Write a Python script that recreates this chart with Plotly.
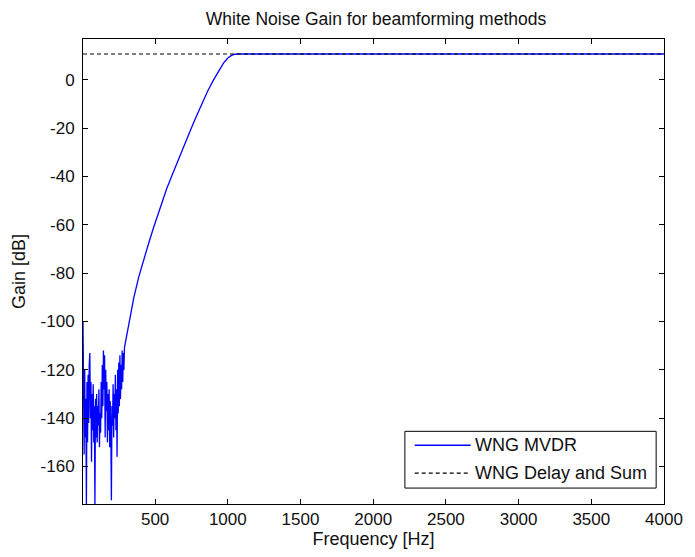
import plotly.graph_objects as go

# Low-frequency (noisy) MVDR bins, Hz and dB
noise_freq = [3.9, 7.8, 11.7, 15.6, 19.5, 23.4, 27.3, 31.3, 35.2, 39.1, 43.0, 46.9,
              50.8, 54.7, 58.6, 62.5, 66.4, 70.3, 74.2, 78.1, 82.0, 85.9, 89.8, 93.8,
              97.7, 101.6, 105.5, 109.4, 113.3, 117.2, 121.1, 125.0, 128.9, 132.8,
              136.7, 140.6, 144.5, 148.4, 152.3, 156.3, 160.2, 164.1, 168.0, 171.9,
              175.8, 179.7, 183.6, 187.5, 191.4, 195.3, 199.2, 203.1, 207.0, 210.9,
              214.8, 218.8, 222.7, 226.6, 230.5, 234.4, 238.3, 242.2, 246.1, 250.0,
              253.9, 257.8, 261.7, 265.6, 269.5, 273.4, 277.3, 281.3, 285.2]
noise_gain = [-100, -128, -155, -120, -148, -132, -176, -125, -150, -122, -142, -118,
              -113, -140, -125, -158, -130, -145, -126, -150, -135, -176, -132, -148,
              -130, -150, -135, -143, -128, -152, -138, -146, -125, -140,
              -118, -135, -112, -128, -114, -148, -120, -137, -125, -150,
              -130, -145, -128, -152, -133, -146, -174, -135, -143, -126,
              -148, -130, -140, -122, -145, -128, -156, -120, -138, -117,
              -135, -114, -132, -118, -128, -112, -125, -113, -120]

# Smooth part of MVDR WNG curve
curve_freq = [289, 320, 353, 387, 421, 455, 490, 520, 545, 580, 620, 660, 700, 740,
              780, 820, 860, 900, 940, 970, 1000, 1025, 1050, 1070,
              1500, 2000, 2500, 3000, 3500, 4000]
curve_gain = [-110.8, -100.1, -90.2, -81.6, -74.4, -67.7, -61.0, -55.4, -50.7, -45.0,
              -39.0, -32.9, -27.0, -21.3, -15.6, -10.0, -4.8, -0.2, 3.9, 6.9, 9.0,
              10.1, 10.6, 10.7, 10.7, 10.7, 10.7, 10.7, 10.7, 10.7]

ds_freq = [3.9, 4000]
ds_gain = [10.7, 10.7]

series_names = ["WNG MVDR", "WNG Delay and Sum"]

x_ticks = [500, 1000, 1500, 2000, 2500, 3000, 3500, 4000]
y_ticks = [0, -20, -40, -60, -80, -100, -120, -140, -160]

mvdr_freq = noise_freq + curve_freq
mvdr_gain = noise_gain + curve_gain

FONT = "Liberation Sans, Arial, sans-serif"
TXT = "#111"
W, H = 695, 557
ML, MR, MT, MB = 83, 20, 39, 51
PW, PH = W - ML - MR, H - MT - MB


def px(xp):
    return (xp - ML) / PW


def py(yp):
    return (H - MB - yp) / PH


fig = go.Figure()
fig.add_trace(go.Scatter(x=mvdr_freq, y=mvdr_gain, mode="lines", name=series_names[0],
                         line=dict(color="#0000ff", width=1.3), showlegend=False))
fig.add_trace(go.Scatter(x=ds_freq, y=ds_gain, mode="lines", name=series_names[1],
                         line=dict(color="black", width=1.1, dash="4px,3px"),
                         showlegend=False))

axis_common = dict(showgrid=False, zeroline=False, showline=True, linecolor="black",
                   linewidth=1, mirror="ticks", ticks="inside", ticklen=5,
                   tickcolor="black", tickfont=dict(family=FONT, size=17, color=TXT))

# Legend drawn as a box with sample lines and labels (MATLAB style)
shapes = [
    dict(type="rect", xref="paper", yref="paper", x0=px(411), x1=px(667),
         y0=py(490), y1=py(433), line=dict(color="black", width=1), fillcolor="white",
         layer="above"),
    dict(type="line", xref="paper", yref="paper", x0=px(421), x1=px(478),
         y0=py(447), y1=py(447), line=dict(color="#0000ff", width=1.3), layer="above"),
    dict(type="line", xref="paper", yref="paper", x0=px(421), x1=px(478),
         y0=py(475), y1=py(475), line=dict(color="black", width=1.1, dash="4px,3px"),
         layer="above"),
]
annotations = [
    dict(text=series_names[0], xref="paper", yref="paper", x=px(480), y=py(447),
         xanchor="left", yanchor="middle", showarrow=False,
         font=dict(family=FONT, size=18, color=TXT)),
    dict(text=series_names[1], xref="paper", yref="paper", x=px(480), y=py(475),
         xanchor="left", yanchor="middle", showarrow=False,
         font=dict(family=FONT, size=18, color=TXT)),
]

fig.update_layout(
    width=W, height=H,
    margin=dict(l=ML, r=MR, t=MT, b=MB),
    paper_bgcolor="white", plot_bgcolor="white",
    title=dict(text="White Noise Gain for beamforming methods", x=0.541, xanchor="center",
               y=0.967, yanchor="middle", font=dict(family=FONT, size=17.5, color=TXT)),
    xaxis=dict(range=[3.9, 4000], tickvals=x_ticks, ticktext=[str(v) for v in x_ticks],
               title=dict(text="Frequency [Hz]", font=dict(family=FONT, size=18, color=TXT),
                          standoff=3),
               **axis_common),
    yaxis=dict(range=[-175.5, 16.9], tickvals=y_ticks, ticktext=[str(v) for v in y_ticks],
               ticklabelstandoff=4,
               title=dict(text="Gain [dB]", font=dict(family=FONT, size=18, color=TXT),
                          standoff=10),
               **axis_common),
    showlegend=False,
    shapes=shapes,
    annotations=annotations,
)

fig.write_html("out.html")
